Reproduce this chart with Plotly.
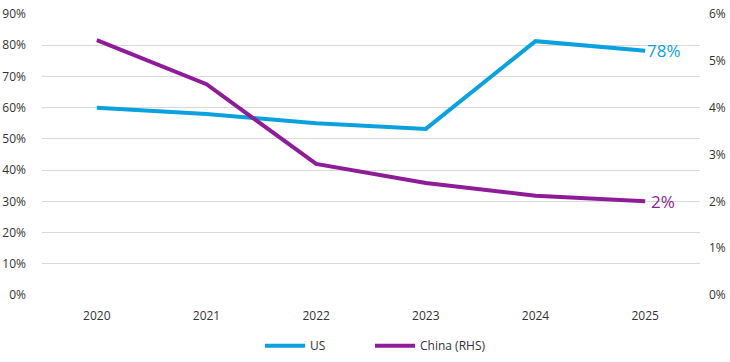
import plotly.graph_objects as go

years = ["2020", "2021", "2022", "2023", "2024", "2025"]
us_values = [60, 58, 55, 53.2, 81.3, 78.2]
china_values = [5.44, 4.5, 2.8, 2.39, 2.12, 2.0]
left_ticks = [0, 10, 20, 30, 40, 50, 60, 70, 80, 90]
right_ticks = [0, 1, 2, 3, 4, 5, 6]

BLUE = "#0AA1DE"
PURPLE = "#8E1C98"
FONT = "Open Sans"

fig = go.Figure()
fig.add_trace(go.Scatter(x=years, y=us_values, name="US", mode="lines",
                         legend="legend", line=dict(color=BLUE, width=4), yaxis="y"))
fig.add_trace(go.Scatter(x=years, y=china_values, name="China (RHS)", mode="lines",
                         legend="legend2", line=dict(color=PURPLE, width=4), yaxis="y2"))

fig.add_annotation(x=len(years) - 1, y=us_values[-1], xref="x", yref="y",
                   text=f"{round(us_values[-1])}%", showarrow=False,
                   xanchor="left", yanchor="middle", xshift=0,
                   font=dict(color=BLUE, size=17, family=FONT))
fig.add_annotation(x=len(years) - 1, y=china_values[-1], xref="x", yref="y2",
                   text=f"{round(china_values[-1])}%", showarrow=False,
                   xanchor="left", yanchor="middle", xshift=4,
                   font=dict(color=PURPLE, size=17, family=FONT))

legend_common = dict(orientation="h", xanchor="left",
                     yref="container", y=0.045, yanchor="middle",
                     font=dict(size=12, color="#333333"), itemwidth=40)

fig.update_layout(
    width=730, height=362,
    autosize=False,
    margin=dict(l=42, r=30, t=14, b=67, autoexpand=False),
    paper_bgcolor="white", plot_bgcolor="white",
    font=dict(family=FONT, size=12, color="#333333"),
    showlegend=True,
    legend=dict(x=(260 - 42) / 658, **legend_common),
    legend2=dict(x=(370 - 42) / 658, **legend_common),
    xaxis=dict(type="category", range=[-0.5, 5.5], showgrid=False, zeroline=False,
               showline=False, ticks="", ticklabelstandoff=12, automargin=False),
    yaxis=dict(range=[0, 90], tickvals=left_ticks, ticktext=[f"{v}%" for v in left_ticks],
               showgrid=True, gridcolor="#D9D9D9", gridwidth=1, zeroline=False,
               showline=False, ticks="", ticklabelstandoff=15, automargin=False),
    yaxis2=dict(range=[0, 6], tickvals=right_ticks, ticktext=[f"{v}%" for v in right_ticks],
                overlaying="y", side="right", showgrid=False, zeroline=False,
                showline=False, ticks="", ticklabelstandoff=8, automargin=False),
)

fig.write_html("out.html", config={"displayModeBar": False},
               post_script="document.body.style.margin='0';")
